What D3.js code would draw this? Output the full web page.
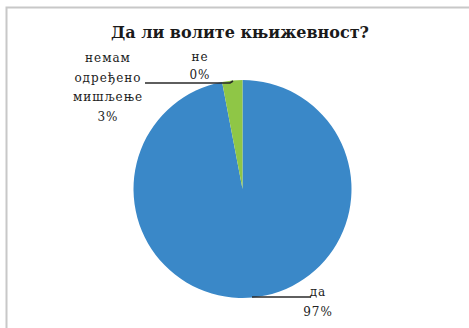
<!DOCTYPE html>
<html>
<head>
<meta charset="utf-8">
<script src="https://cdn.jsdelivr.net/npm/d3@7"></script>
<style>
  html, body { margin: 0; padding: 0; background: #ffffff; }
  svg { display: block; }
</style>
</head>
<body>
<svg id="chart" width="469" height="328"></svg>
<script>
// Survey answers, in drawing order clockwise from 12 o'clock
const answers = ["да", "не", "немам одређено мишљење"];
const shares = [97, 0, 3];
const shareLabels = ["97%", "0%", "3%"];
const sliceColors = ["#3a88c8", "#3a88c8", "#8fc646"];
const title = "Да ли волите књижевност?";

const serif = "'DejaVu Serif', 'Liberation Serif', 'Times New Roman', serif";
const svg = d3.select("#chart");

// frame
svg.append("rect")
  .attr("x", 6.5).attr("y", 7.5)
  .attr("width", 470).attr("height", 330)
  .attr("fill", "#ffffff")
  .attr("stroke", "#c8c8c8").attr("stroke-width", 2);

svg.append("text")
  .attr("x", 240).attr("y", 38)
  .attr("text-anchor", "middle")
  .attr("font-family", serif)
  .attr("fill", "#1a1a1a")
  .attr("font-size", 16).attr("font-weight", "bold")
  .text(title);

const cx = 242.5, cy = 189, r = 109;
const g = svg.append("g").attr("transform", `translate(${cx},${cy})`);

const pie = d3.pie().sort(null).value(d => d)(shares);
const arc = d3.arc().innerRadius(0).outerRadius(r);

g.selectAll("path.slice")
  .data(pie.filter(d => d.endAngle > d.startAngle))
  .enter().append("path")
  .attr("class", "slice")
  .attr("d", arc)
  .attr("fill", d => sliceColors[d.index]);

// data labels with leader lines
const labelSpecs = [
  { lines: [answers[0], shareLabels[0]], x: 318, y: 296, step: 20, line: [[252, 297], [311, 297]] },
  { lines: [answers[1], shareLabels[1]], x: 200, y: 61, step: 18, line: [[145, 83], [230, 83], [233, 81]] },
  { lines: ["немам", "одређено", "мишљење", shareLabels[2]], x: 108, y: 62, step: 19.7, line: null }
];

labelSpecs.forEach(s => {
  if (s.line) {
    svg.append("path")
      .attr("d", d3.line()(s.line))
      .attr("stroke", "#2a2a2a").attr("stroke-width", 1.6).attr("fill", "none");
  }
  const t = svg.append("text")
    .attr("text-anchor", "middle")
    .attr("font-family", serif)
    .attr("fill", "#222")
    .attr("font-size", 12)
    .attr("letter-spacing", 1);
  s.lines.forEach((ln, k) => {
    t.append("tspan").attr("x", s.x).attr("y", s.y + k * s.step).text(ln);
  });
});
</script>
</body>
</html>
